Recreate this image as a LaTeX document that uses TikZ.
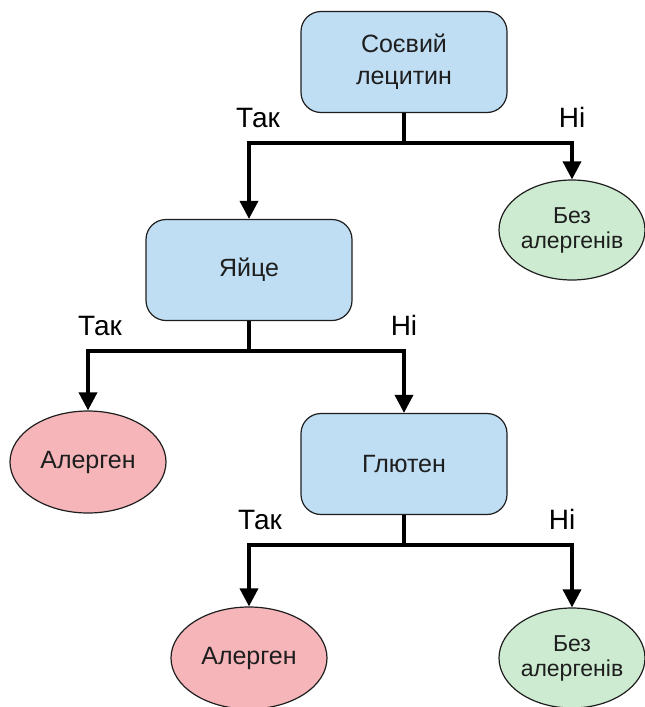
\documentclass[tikz,border=0pt]{standalone}
\usepackage{fontspec}
\setmainfont{Liberation Sans}
\usetikzlibrary{positioning,shapes.geometric,arrows.meta}

\definecolor{boxblue}{HTML}{BFDEF3}
\definecolor{allergred}{HTML}{F5B5B9}
\definecolor{freegreen}{HTML}{CDEBD0}
\definecolor{inkgray}{HTML}{1E1E1E}

\tikzset{
  test/.style={draw=inkgray, line width=1.2pt, fill=boxblue, rounded corners=20pt,
    minimum width=206pt, minimum height=101pt, align=center, text=inkgray,
    font=\fontsize{25}{32}\selectfont},
  allerg/.style={ellipse, draw=inkgray, line width=1.2pt, fill=allergred,
    minimum width=156pt, minimum height=102pt, inner sep=0pt, text=inkgray,
    font=\fontsize{25}{30}\selectfont},
  free/.style={ellipse, draw=inkgray, line width=1.2pt, fill=freegreen,
    minimum width=146pt, minimum height=100pt, inner sep=0pt, align=center,
    text=inkgray, font=\fontsize{23}{25}\selectfont},
  branch/.style={to path={-- ++(0,-30pt) -| (\tikztotarget) \tikztonodes}},
  answer/.style={pos=0.5, above=14pt, inner sep=0pt, text=black,
    font=\fontsize{28}{32}\selectfont},
}

\begin{document}
\begin{tikzpicture}[node distance=3cm,on grid,>={Triangle[length=18pt,width=18pt]}]
  \useasboundingbox (0,0) rectangle (645pt,-707pt);
  \path
  node[test] (soy) at (404pt,-62pt) {Соєвий\\лецитин}
  node[test] (egg) [below left=208pt and 155pt of soy] {Яйце}
  node[free] (free_1) [below right=168pt and 168pt of soy] {Без\\алергенів}
  node[allerg] (allerg_1) [below left=192pt and 161pt of egg] {Алерген}
  node[test] (gluten) [below right=194pt and 155pt of egg] {Глютен}
  node[allerg] (allerg_2) [below left=194pt and 155pt of gluten] {Алерген}
  node[free] (free_2) [below right=194pt and 168pt of gluten] {Без\\алергенів}
  ;
  \path[->,line width=3.5pt]
  (soy.south) edge[branch] node[answer, xshift=9pt] {Так} (egg.north)
  (soy.south) edge[branch] node[answer] {Ні} (free_1.north)

  (egg.south) edge[branch] node[answer, xshift=12pt] {Так} (allerg_1.north)
  (egg.south) edge[branch] node[answer] {Ні} (gluten.north)

  (gluten.south) edge[branch] node[answer, xshift=11pt] {Так} (allerg_2.north)
  (gluten.south) edge[branch] node[answer, xshift=-10pt] {Ні} (free_2.north)
  ;
\end{tikzpicture}
\end{document}
